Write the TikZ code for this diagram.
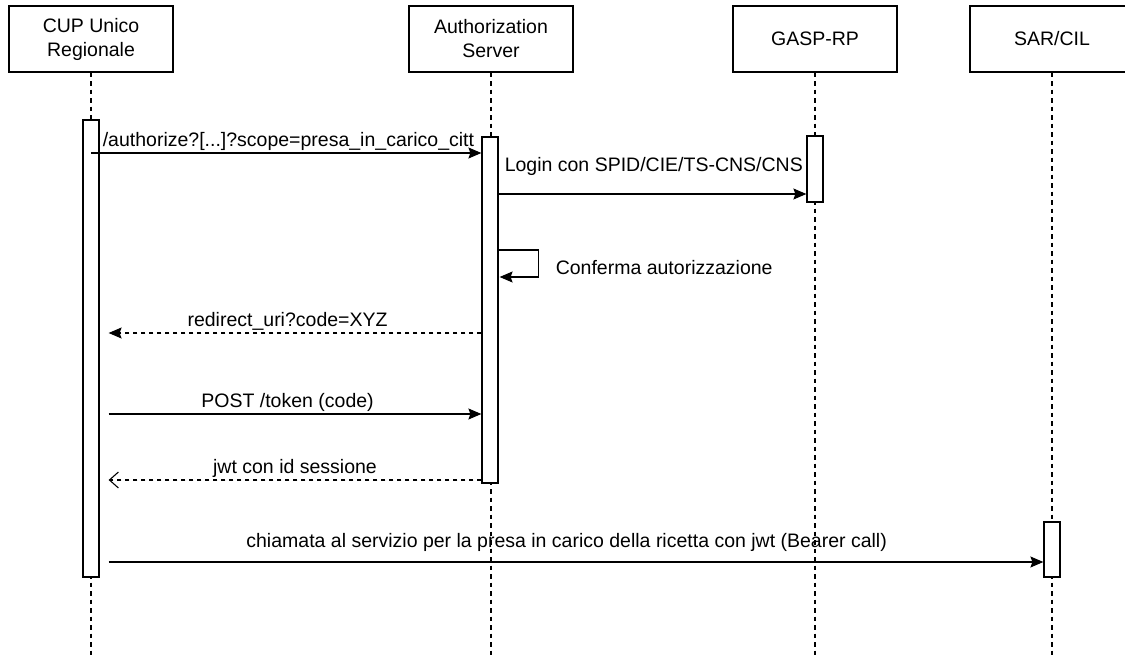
\documentclass[tikz,border=0pt]{standalone}
\usepackage{fontspec}
\setmainfont{Liberation Sans}
\usetikzlibrary{arrows.meta,positioning}
\tikzset{
  actor/.style={
    rectangle, draw, line width=1.2pt, fill=white,
    minimum width=164pt, minimum height=66pt, inner sep=0pt,
    align=center, font=\fontsize{19.5}{24}\selectfont
  },
  lifeline/.style={line width=1.1pt, dash pattern=on 4.5pt off 4pt},
  actbar/.style={
    rectangle, draw, line width=1.2pt, fill=white,
    minimum width=16pt, inner sep=0pt
  },
  msg/.style={-{Stealth[length=13pt,width=11pt,inset=2pt]}, line width=1.2pt},
  replymsg/.style={msg, dash pattern=on 4.5pt off 3.5pt},
  openreply/.style={-{Straight Barb[length=9pt,width=16pt]}, line width=1.1pt, dash pattern=on 4.5pt off 3.5pt},
  msglabel/.style={font=\fontsize{19.5}{24}\selectfont, inner sep=2pt},
}
\begin{document}
\begin{tikzpicture}[x=1pt, y=-1pt]
  \useasboundingbox (0,0) rectangle (1125,655);

  % participants
  \node[actor] (cup)  at (91,39)   {CUP Unico\\Regionale};
  \node[actor] (auth) at (491,39)  {Authorization\\Server};
  \node[actor] (gasp) at (815,39)  {GASP-RP};
  \node[actor] (sar)  at (1052,39) {SAR/CIL};

  % lifelines
  \coordinate (bottom) at (0,655);
  \foreach \p in {cup,auth,gasp,sar}
    \draw[lifeline] (\p.south) -- (\p.south |- bottom);

  % activation bars
  \node[actbar, minimum height=457pt] (cupAct)  at (91,348.5)  {};
  \node[actbar, minimum height=346pt] (authAct) at (490,310)   {};
  \node[actbar, minimum height=66pt]  (gaspAct) at (815,169)   {};
  \node[actbar, minimum height=55pt]  (sarAct)  at (1052,549.5) {};

  % message rows
  \coordinate (r1) at (0,153);
  \coordinate (r2t) at (0,166);
  \coordinate (r2) at (0,194);
  \coordinate (r3) at (0,250);
  \coordinate (r3b) at (0,277);
  \coordinate (r4) at (0,333);
  \coordinate (r5) at (0,414);
  \coordinate (r6) at (0,480);
  \coordinate (r7) at (0,562);

  \draw[msg] (cupAct |- r1) -- (authAct.west |- r1);
  \node[msglabel, anchor=south west] at ([xshift=1pt]cupAct.east |- r1)
    {/authorize?[...]?scope=presa\_in\_carico\_citt};

  \draw[msg] (authAct.east |- r2) -- (gaspAct.west |- r2);
  \node[msglabel, anchor=west] at ([xshift=4pt]authAct.east |- r2t)
    {Login con SPID/CIE/TS-CNS/CNS};

  \draw[msg] (authAct.east |- r3) -- ++(40,0) -- ++(0,27) -- ([xshift=1pt]authAct.east |- r3b);
  \node[msglabel, anchor=west] at ([xshift=55pt]authAct.east |- 0,268)
    {Conferma autorizzazione};

  \draw[replymsg] (authAct.west |- r4) -- node[msglabel, above, pos=0.52] {redirect\_uri?code=XYZ}
    ([xshift=9pt]cupAct.east |- r4);
  \draw[msg] ([xshift=9pt]cupAct.east |- r5) -- node[msglabel, above, pos=0.48] {POST /token (code)}
    (authAct.west |- r5);
  \draw[openreply] (authAct.west |- r6) -- node[msglabel, above] {jwt con id sessione}
    ([xshift=9pt]cupAct.east |- r6);
  \draw[msg] ([xshift=9pt]cupAct.east |- r7) -- node[msglabel, above, pos=0.49, yshift=8pt]
    {chiamata al servizio per la presa in carico della ricetta con jwt (Bearer call)}
    (sarAct.west |- r7);
\end{tikzpicture}
\end{document}
